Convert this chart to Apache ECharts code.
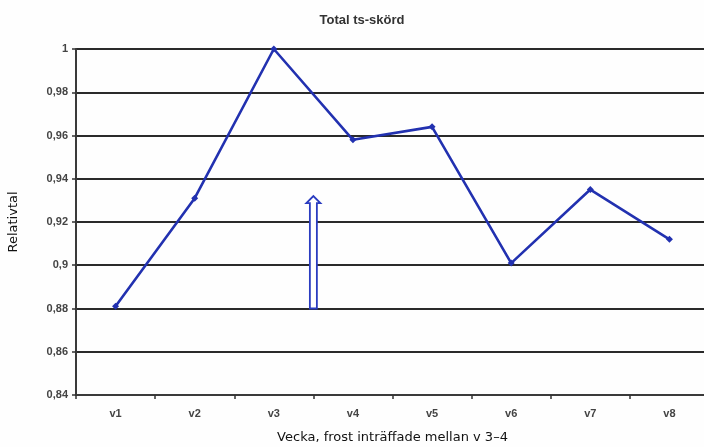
<!DOCTYPE html>
<html>
<head>
<meta charset="utf-8">
<script src="https://cdn.jsdelivr.net/npm/echarts@6/dist/echarts.min.js"></script>
<style>html,body{margin:0;padding:0;background:#fff}#c{width:704px;height:447px}</style>
</head>
<body>
<div id="c"></div>
<script>
var categories = ['v1','v2','v3','v4','v5','v6','v7','v8'];
var values = [0.881, 0.931, 1.0, 0.958, 0.964, 0.901, 0.935, 0.912];
var arrowX = 3;        // boundary between v3 and v4 (in category units)
var arrowFrom = 0.88;
var arrowTo = 0.932;

var chart = echarts.init(document.getElementById('c'));
chart.setOption({
  backgroundColor: '#fefefe',
  animation: false,
  title: {
    text: 'Total ts-skörd', left: 357, top: 9, textAlign: 'center',
    textStyle: {fontFamily: 'Liberation Sans', fontSize: 13, fontWeight: 'bold', color: '#333'}
  },
  grid: {left: 76, right: -5, top: 49, bottom: 52, outerBoundsMode: 'none', containLabel: false},
  xAxis: [{
    type: 'category', data: categories, boundaryGap: true,
    name: 'Vecka, frost inträffade mellan v 3–4', nameLocation: 'middle', nameGap: 36,
    nameTextStyle: {fontFamily: 'DejaVu Sans', fontSize: 13, color: '#111'},
    axisLine: {lineStyle: {color: '#3a3a3a', width: 2}},
    axisTick: {show: true, length: 4, lineStyle: {color: '#333', width: 1.5}},
    axisLabel: {fontFamily: 'Liberation Sans', fontSize: 11, fontWeight: 'bold', color: '#444', margin: 13},
    splitLine: {show: false}
  }, {
    type: 'value', min: 0, max: 8, show: false
  }],
  yAxis: {
    type: 'value', min: 0.84, max: 1, interval: 0.02,
    name: 'Relativtal', nameLocation: 'middle', nameGap: 56, nameRotate: 90,
    nameTextStyle: {fontFamily: 'DejaVu Sans', fontSize: 13, color: '#111'},
    axisLine: {show: true, lineStyle: {color: '#3a3a3a', width: 2}},
    axisTick: {show: true, length: 4, lineStyle: {color: '#333', width: 1.5}},
    axisLabel: {
      fontFamily: 'Liberation Sans', fontSize: 11, fontWeight: 'bold', color: '#444', margin: 8,
      formatter: function (v) { return String(+v.toFixed(2)).replace('.', ','); }
    },
    splitLine: {show: true, lineStyle: {color: '#2a2a2a', width: 2.2}}
  },
  series: [{
    type: 'line', data: values, xAxisIndex: 0,
    symbol: 'diamond', symbolSize: 7,
    lineStyle: {color: '#2231b0', width: 2.6},
    itemStyle: {color: '#2231b0'},
    z: 5
  }, {
    type: 'custom', xAxisIndex: 1, yAxisIndex: 0,
    data: [[arrowX, arrowFrom, arrowTo]],
    renderItem: function (params, api) {
      var b = api.coord([api.value(0), api.value(1)]);
      var t = api.coord([api.value(0), api.value(2)]);
      var sw = 3.5, hw = 7, hh = 7;
      var x = b[0];
      return {
        type: 'polygon',
        shape: {points: [
          [x - sw, b[1]], [x - sw, t[1] + hh], [x - hw, t[1] + hh], [x, t[1]],
          [x + hw, t[1] + hh], [x + sw, t[1] + hh], [x + sw, b[1]]
        ]},
        style: {fill: '#fff', stroke: '#2a3cc0', lineWidth: 1.8}
      };
    },
    z: 4
  }]
});
</script>
</body>
</html>
